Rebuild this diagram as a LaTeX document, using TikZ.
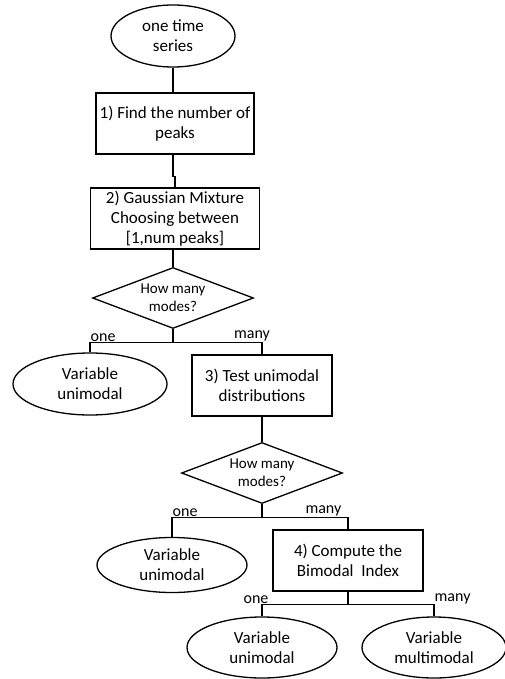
\documentclass[tikz,border=0pt]{standalone}
\usepackage{fontspec}
\setmainfont{Carlito}
\usetikzlibrary{shapes.geometric}
\begin{document}
\begin{tikzpicture}[x=1pt,y=-1pt,
 base/.style={draw=black, line width=1.3pt, align=center, inner sep=0pt, font=\fontsize{17}{20}\selectfont},
 ell/.style={base, ellipse},
 box/.style={base, rectangle},
 dia/.style={base, diamond, aspect=2.6, font=\fontsize{15}{18}\selectfont},
 conn/.style={line width=1.3pt},
 tconn/.style={line width=2pt},
 lbl/.style={font=\fontsize{16}{18}\selectfont, inner sep=0.5pt}
]
\useasboundingbox (0,0) rectangle (505,679);
\node[ell, minimum width=124pt, minimum height=62pt] (e0) at (173,36) {one time\\series};
\node[box, minimum width=158pt, minimum height=61pt] (b1) at (175,123.5) {1) Find the number of\\peaks};
\node[box, minimum width=169pt, minimum height=61pt] (b2) at (175,218.5) {2) Gaussian Mixture\\Choosing between\\{[}1,num peaks{]}};
\node[dia, minimum width=161pt, minimum height=61pt] (d1) at (173,298) {How many\\modes?};
\node[ell, minimum width=154pt, minimum height=62pt] (e1) at (90,384) {Variable\\unimodal};
\node[box, minimum width=140pt, minimum height=61pt] (b3) at (262,385.5) {3) Test unimodal\\distributions};
\node[dia, minimum width=161pt, minimum height=61pt] (d2) at (262,473) {How many\\modes?};
\node[ell, minimum width=150pt, minimum height=55pt] (e2) at (172,565) {Variable\\unimodal};
\node[box, minimum width=150pt, minimum height=61pt] (b4) at (348,560.5) {4) Compute the\\Bimodal\ \ Index};
\node[ell, minimum width=150pt, minimum height=61pt] (e3) at (262,647.5) {Variable\\unimodal};
\node[ell, minimum width=144pt, minimum height=61pt] (e4) at (434,647.5) {Variable\\multimodal};

\draw[tconn] (e0.south) -- (e0.south |- b1.north);
\draw[conn] (b1.south -| e0.south) -- ++(0,22) -| (b2.north);
\draw[conn] (b2.south -| d1.north) -- (d1.north);
% branch 1
\draw[conn] (d1.south) -- ++(0,13) coordinate (j1);
\draw[conn] (e1.north) -- (e1.north |- j1) -- (b3.north |- j1) -- (b3.north);
\node[lbl, anchor=south west] (l1) at (e1.north |- j1) {one};
\node[lbl, anchor=south] (l2) at ([xshift=-10pt]b3.north |- j1) {many};
% to diamond 2
\draw[tconn] (b3.south) -- (d2.north);
\draw[conn] (d2.south) -- ++(0,13) coordinate (j2);
\draw[conn] (e2.north) -- (e2.north |- j2) -- (b4.north |- j2) -- (b4.north);
\node[lbl, anchor=south west] (l3) at (e2.north |- j2) {one};
\node[lbl, anchor=south east] (l4) at ([xshift=-6pt]b4.north |- j2) {many};
% branch 3
\draw[conn] (b4.south) -- ++(0,13) coordinate (j3);
\draw[conn] (e3.north) -- (e3.north |- j3) -- (e4.north |- j3) -- (e4.north);
\node[lbl, anchor=south] (l5) at ([xshift=-6pt]e3.north |- j3) {one};
\node[lbl, anchor=south west] (l6) at (e4.north |- j3) {many};
\end{tikzpicture}
\end{document}
